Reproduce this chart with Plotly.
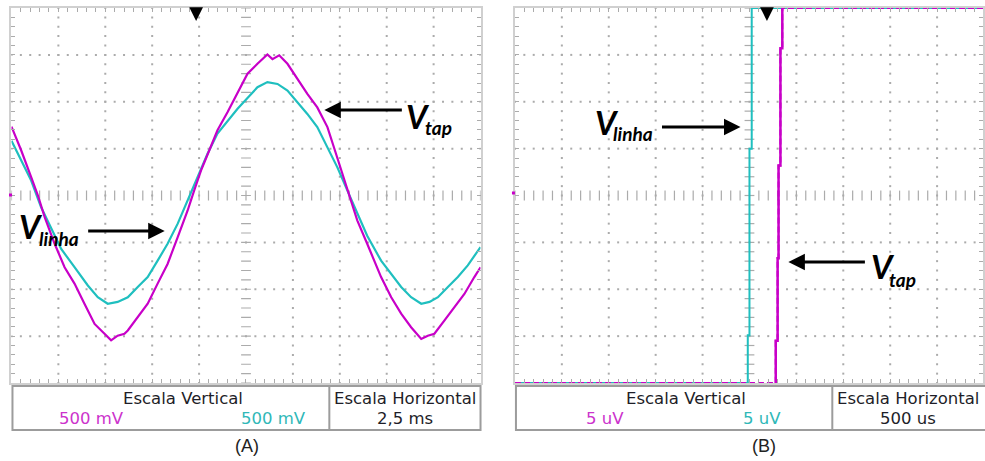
import plotly.graph_objects as go

W, H = 985, 461

# ---- Panel (A): 60 Hz line voltage and tap voltage, 2,5 ms/div, 500 mV/div ----
t_tap_a = [0.00, 0.52, 1.05, 1.41, 1.77, 2.30, 2.83, 3.36, 3.89, 4.43, 4.96, 5.31,
           5.66, 6.02, 6.20, 6.73, 7.26, 7.79, 8.32, 8.86, 9.39, 9.74, 10.10, 10.54,
           10.98, 11.52, 12.05, 12.58, 13.11, 13.64, 13.91, 14.27, 14.71, 15.24,
           15.77, 16.30, 16.84, 17.37, 17.90, 18.43, 18.96, 19.17, 19.70, 20.24,
           20.77, 21.30, 21.84, 22.19, 22.54, 23.07, 23.61, 24.14, 24.67, 25.00]
v_tap_a = [0.735, 0.48, 0.195, 0.0, -0.23, -0.515, -0.765, -0.94, -1.155, -1.37,
           -1.475, -1.545, -1.495, -1.475, -1.44, -1.295, -1.155, -0.94, -0.73,
           -0.445, -0.16, 0.055, 0.265, 0.48, 0.695, 0.89, 1.10, 1.30, 1.405, 1.505,
           1.455, 1.495, 1.405, 1.245, 1.085, 0.94, 0.73, 0.40, 0.07, -0.265,
           -0.515, -0.62, -0.87, -1.085, -1.26, -1.405, -1.53, -1.495, -1.475,
           -1.335, -1.19, -1.05, -0.87, -0.765]

t_linha_a = [0.00, 0.52, 1.05, 1.58, 2.12, 2.65, 3.36, 4.07, 4.60, 5.13, 5.66, 6.20,
             6.73, 7.26, 7.79, 8.32, 8.86, 9.39, 9.92, 10.45, 10.98, 11.52, 12.05,
             12.58, 13.11, 13.64, 14.18, 14.71, 15.24, 15.77, 16.30, 16.84, 17.37,
             17.90, 18.43, 18.96, 19.70, 20.24, 20.77, 21.30, 21.84, 22.28, 22.73,
             23.26, 23.79, 24.32, 25.00]
v_linha_a = [0.585, 0.375, 0.16, -0.125, -0.355, -0.57, -0.765, -0.96, -1.085,
             -1.155, -1.135, -1.085, -0.975, -0.87, -0.695, -0.515, -0.30, -0.055,
             0.195, 0.445, 0.66, 0.80, 0.925, 1.04, 1.155, 1.21, 1.19, 1.12, 0.995,
             0.87, 0.73, 0.515, 0.30, 0.055, -0.195, -0.43, -0.695, -0.835, -0.975,
             -1.085, -1.155, -1.135, -1.085, -0.975, -0.87, -0.745, -0.55]

# ---- Panel (B): step edges, 500 us/div, 5 uV/div (traces clipped at screen limits) ----
t_linha_b = [0.0, 2.482, 2.482, 2.500, 2.500, 2.524, 2.524, 4.99]
v_linha_b = [-20, -20, -14.9, -14.9, 5.0, 5.0, 20, 20]

t_tap_b = [0.0, 2.78, 2.78, 2.80, 2.80, 2.81, 2.81, 2.83, 2.83, 2.85, 2.85, 4.99]
v_tap_b = [-20, -20, -15.5, -15.5, -6.7, -6.7, 3.2, 3.2, 15.7, 15.7, 20, 20]

scale_a = ["500 mV", "500 mV", "2,5 ms"]
scale_b = ["5 uV", "5 uV", "500 us"]

MAG = "#c800c8"
CYA = "#1fbfbf"
GRID = "#ababab"
BORDER = "#d0d0d0"


def fx(x):
    return x / W


def fy(y):
    return 1 - y / H


fig = go.Figure()

# screen geometry (pixels)
A_X0, A_X1, TOP, BOT = 11.5, 481.5, 8, 383
B_X0, DIV = 516, 47.0

panels = [
    dict(xa="x", ya="y", xr=[0, 25], yr=[-2, 2], dx=2.5, dy=0.5),
    dict(xa="x2", ya="y2", xr=[0, (W - B_X0) / DIV * 0.5], yr=[-20, 20], dx=0.5, dy=5),
]


def add_graticule(p):
    xs, ys = [], []
    cx, cy = 5 * p["dx"], 0.0
    y_lo = p["yr"][0]
    # dotted major lines
    for i in range(1, 10):
        if i == 5:
            continue
        x = i * p["dx"]
        if x > p["xr"][1]:
            continue
        for k in range(41):
            xs.append(x)
            ys.append(y_lo + k * p["dy"] / 5)
    for j in range(1, 8):
        if j == 4:
            continue
        y = y_lo + j * p["dy"]
        for k in range(51):
            x = k * p["dx"] / 5
            if x <= p["xr"][1]:
                xs.append(x)
                ys.append(y)
    fig.add_trace(go.Scatter(x=xs, y=ys, xaxis=p["xa"], yaxis=p["ya"], mode="markers",
                             marker=dict(symbol="square", size=2, color=GRID, line_width=0),
                             hoverinfo="skip", showlegend=False))
    # centre cross with minor ticks
    hx = [k * p["dx"] / 5 for k in range(51) if k * p["dx"] / 5 <= p["xr"][1]]
    fig.add_trace(go.Scatter(x=hx, y=[cy] * len(hx), xaxis=p["xa"], yaxis=p["ya"],
                             mode="markers",
                             marker=dict(symbol="line-ns", size=7, color=GRID,
                                         line=dict(width=1.2, color=GRID)),
                             hoverinfo="skip", showlegend=False))
    vy = [y_lo + k * p["dy"] / 5 for k in range(41)]
    fig.add_trace(go.Scatter(x=[cx] * len(vy), y=vy, xaxis=p["xa"], yaxis=p["ya"],
                             mode="markers",
                             marker=dict(symbol="line-ew", size=7, color=GRID,
                                         line=dict(width=1.2, color=GRID)),
                             hoverinfo="skip", showlegend=False))


for p in panels:
    add_graticule(p)

# traces panel A
fig.add_trace(go.Scatter(x=t_linha_a, y=v_linha_a, mode="lines", xaxis="x", yaxis="y",
                         line=dict(color=CYA, width=2.2), showlegend=False))
fig.add_trace(go.Scatter(x=t_tap_a, y=v_tap_a, mode="lines", xaxis="x", yaxis="y",
                         line=dict(color=MAG, width=2.2), showlegend=False))

# traces panel B
fig.add_trace(go.Scatter(x=t_linha_b, y=v_linha_b, mode="lines", xaxis="x2", yaxis="y2",
                         line=dict(color=CYA, width=2), showlegend=False, cliponaxis=False))
fig.add_trace(go.Scatter(x=t_tap_b, y=v_tap_b, mode="lines", xaxis="x2", yaxis="y2",
                         line=dict(color=MAG, width=2, dash="6px,3px"), showlegend=False,
                         cliponaxis=False))
fig.add_trace(go.Scatter(x=t_tap_b[1:-1], y=v_tap_b[1:-1], mode="lines", xaxis="x2",
                         yaxis="y2", line=dict(color=MAG, width=2.5), showlegend=False,
                         cliponaxis=False))

axis_common = dict(showgrid=False, zeroline=False, showticklabels=False, ticks="inside",
                   ticklen=4, tickwidth=1, tickcolor=GRID, showline=True,
                   linecolor=BORDER, linewidth=2, mirror="ticks", fixedrange=True)

fig.update_layout(
    width=W, height=H, margin=dict(l=0, r=0, t=0, b=0),
    paper_bgcolor="white", plot_bgcolor="white",
    xaxis=dict(domain=[fx(A_X0), fx(A_X1)], range=panels[0]["xr"], anchor="y",
               tick0=0, dtick=0.5, **axis_common),
    yaxis=dict(domain=[fy(BOT), fy(TOP)], range=panels[0]["yr"], anchor="x",
               tick0=-2, dtick=0.1, **axis_common),
    xaxis2=dict(domain=[fx(B_X0), 1.0], range=panels[1]["xr"], anchor="y2",
                tick0=0, dtick=0.1, **axis_common),
    yaxis2=dict(domain=[fy(BOT), fy(TOP)], range=panels[1]["yr"], anchor="x2",
                tick0=-20, dtick=1, **axis_common),
)

shapes = []
annos = []

# scale boxes under each screen
TXT = "DejaVu Sans"
for (x0, x1, xdiv), vals, tag, tag_x, mv, cv in [
        ((12.5, 481.5, 330), scale_a, "(A)", 248, 92, 274),
        ((517, 990, 834), scale_b, "(B)", 766, 606, 764)]:
    shapes.append(dict(type="rect", xref="paper", yref="paper", x0=fx(x0), x1=fx(x1),
                       y0=fy(430), y1=fy(386), line=dict(color="#9c9c9c", width=2),
                       fillcolor="white", layer="above"))
    shapes.append(dict(type="line", xref="paper", yref="paper", x0=fx(xdiv), x1=fx(xdiv),
                       y0=fy(430), y1=fy(386), line=dict(color="#9c9c9c", width=2),
                       layer="above"))
    mid_v = (x0 + xdiv) / 2 + 12
    mid_h = (xdiv + min(x1, W)) / 2
    f = dict(family=TXT, size=16.5, color="#1e1e28")
    annos.append(dict(x=fx(mid_v), y=fy(398), text="Escala Vertical", font=f))
    annos.append(dict(x=fx(mid_h), y=fy(398), text="Escala Horizontal", font=f))
    annos.append(dict(x=fx(mid_h), y=fy(418), text=vals[2], font=f))
    annos.append(dict(x=fx(mv), y=fy(418), text=vals[0],
                      font=dict(family=TXT, size=16.5, color="#cc33cc")))
    annos.append(dict(x=fx(cv), y=fy(418), text=vals[1],
                      font=dict(family=TXT, size=16.5, color="#2fb8b8")))
    annos.append(dict(x=fx(tag_x), y=fy(446), text=tag,
                      font=dict(family="Liberation Sans", size=18, color="#222222")))

for a in annos:
    a.update(xref="paper", yref="paper", showarrow=False, xanchor="center",
             yanchor="middle")

# trigger markers at top of each screen
for tx in (196.5, 768.5):
    annos.append(dict(xref="paper", yref="paper", x=fx(tx), y=fy(21), ax=0, ay=-14,
                      axref="pixel", ayref="pixel", text="", showarrow=True,
                      arrowhead=2, arrowsize=1.1, arrowwidth=2.5, arrowcolor="black",
                      standoff=0))

# channel level markers on the left edge
for lx, ly in ((10.5, 195), (514.5, 193)):
    shapes.append(dict(type="rect", xref="paper", yref="paper", x0=fx(lx - 1.5),
                       x1=fx(lx + 1.5), y0=fy(ly + 1.5), y1=fy(ly - 1.5),
                       fillcolor=MAG, line_width=0, layer="above"))

# signal labels with arrows
LBL = "Lato"
for (tip_x, tip_y, tail_x, vx, vy, sx, sy, sub) in [
        (325, 110, 404, 405, 116, 424, 127, "tap"),
        (165, 231, 87, 17, 226, 37, 238, "linha"),
        (742, 127, 662, 594, 122, 612, 134, "linha"),
        (790, 262, 868, 871, 266, 889, 279, "tap")]:
    annos.append(dict(xref="paper", yref="paper", x=fx(tip_x), y=fy(tip_y),
                      ax=tail_x - tip_x, ay=0, axref="pixel", ayref="pixel", text="",
                      showarrow=True, arrowhead=2, arrowsize=1.1, arrowwidth=3,
                      arrowcolor="black", standoff=0))
    annos.append(dict(xref="paper", yref="paper", x=fx(vx), y=fy(vy), xanchor="left",
                      yanchor="middle", showarrow=False, text="<b><i>V</i></b>",
                      font=dict(family=LBL, size=33, color="black")))
    annos.append(dict(xref="paper", yref="paper", x=fx(sx), y=fy(sy), xanchor="left",
                      yanchor="middle", showarrow=False, text="<b><i>" + sub + "</i></b>",
                      font=dict(family=LBL, size=19, color="black")))

fig.update_layout(shapes=shapes, annotations=annos)
fig.write_html("out.html")
